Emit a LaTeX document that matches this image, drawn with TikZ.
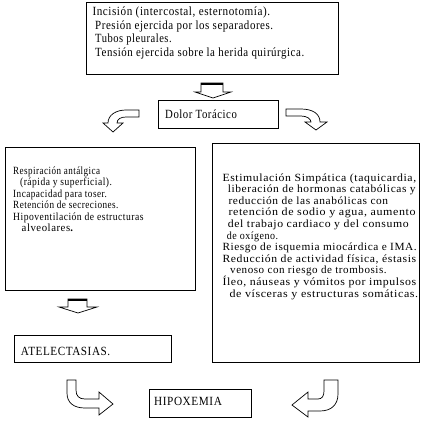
\documentclass[tikz,border=0pt]{standalone}
\usepackage{fontspec}
\usepackage{graphicx}
\setmainfont{Liberation Serif}[LetterSpace=5]
\newlength\fitw
\newcommand\fitto[2]{\settowidth\fitw{#2}\pgfmathsetmacro\fitsx{#1/\fitw}\scalebox{\fitsx}[1]{#2}}
\begin{document}
\begin{tikzpicture}[x=1pt,y=-1pt,
  box/.style={draw, line width=0.8pt, inner sep=0pt, anchor=north west},
  barrow/.style={draw, line width=0.7pt, fill=white, line join=miter},
  txt/.style={anchor=base west, inner sep=0pt},
  bigtxt/.style={txt, font=\fontsize{12.5}{13.5}\selectfont},
  smalltxt/.style={txt, font=\fontsize{11}{11.6}\selectfont}]
\useasboundingbox (0,0) rectangle (423,424);
\fill[white] (0,0) rectangle (423,424);
% boxes
\node[box, minimum width=252pt, minimum height=72pt] (topbox) at (86,2) {};
\node[box, minimum width=120pt, minimum height=28pt] (dolor) at (158,100) {};
\node[box, minimum width=190pt, minimum height=143pt] (leftbox) at (5,147) {};
\node[box, minimum width=207pt, minimum height=219pt] (rightbox) at (211.5,143) {};
\node[box, minimum width=157pt, minimum height=27pt] (atel) at (14,335) {};
\node[box, minimum width=102pt, minimum height=28pt] (hipox) at (149,389) {};
% top text
\node[bigtxt] (top1) at (92.3,15.5) {\fitto{177.7}{Incisión (intercostal, esternotomía).}};
\node[bigtxt] (top2) at (95,29) {\fitto{178}{Presión ejercida por los separadores.}};
\node[bigtxt] (top3) at (95,42.5) {\fitto{76.5}{Tubos pleurales.}};
\node[bigtxt] (top4) at (95,56) {\fitto{209}{Tensión ejercida sobre la herida quirúrgica.}};
\node[bigtxt] (dolortxt) at (165,118) {\fitto{71.7}{Dolor Torácico}};
\node[bigtxt] (ateltxt) at (20.7,355) {\fitto{89.3}{ATELECTASIAS.}};
\node[bigtxt] (hipoxtxt) at (154,405) {\fitto{67.7}{HIPOXEMIA}};
% left text
\node[smalltxt] (l1) at (13,174) {\fitto{87}{Respiración antálgica}};
\node[smalltxt] (l2) at (20,185.5) {\fitto{91.7}{(rápida y superficial).}};
\node[smalltxt] (l3) at (13,197) {\fitto{93.7}{Incapacidad para toser.}};
\node[smalltxt] (l4) at (13,208.5) {\fitto{105.3}{Retención de secreciones.}};
\node[smalltxt] (l5) at (13,220) {\fitto{130.3}{Hipoventilación de estructuras}};
\node[smalltxt] (l6) at (21.5,231.5) {\fitto{51.8}{alveolares\textbf{.}}};
% right text
\node[smalltxt] (r1) at (222.3,181) {\fitto{193.7}{Estimulación Simpática (taquicardia,}};
\node[smalltxt] (r2) at (227.7,192.6) {\fitto{187.8}{liberación de hormonas catabólicas y}};
\node[smalltxt] (r3) at (228.3,204.2) {\fitto{159.7}{reducción de las anabólicas con}};
\node[smalltxt] (r4) at (228.3,215.8) {\fitto{187.2}{retención de sodio y agua, aumento}};
\node[smalltxt] (r5) at (227.7,227.4) {\fitto{180.8}{del trabajo cardiaco y del consumo}};
\node[smalltxt] (r6) at (226.7,239) {\fitto{51.3}{de oxígeno.}};
\node[smalltxt] (r7) at (222.3,250.6) {\fitto{194.2}{Riesgo de isquemia miocárdica e IMA.}};
\node[smalltxt] (r8) at (222.3,262.2) {\fitto{193.7}{Reducción de actividad física, éstasis}};
\node[smalltxt] (r9) at (230,273.8) {\fitto{156.5}{venoso con riesgo de trombosis.}};
\node[smalltxt] (r10) at (222.3,285.4) {\fitto{193.7}{Íleo, náuseas y vómitos por impulsos}};
\node[smalltxt] (r11) at (229.3,297) {\fitto{188.7}{de vísceras y estructuras somáticas.}};
% block arrows
\draw[barrow] (201,83) -- (201,92) -- (195,92) -- (213,98) -- (231,92) -- (223,92) -- (223,83) -- cycle;
\draw[line width=2pt] (201,83.5) -- (223,83.5);
\draw[barrow] (68,299) -- (68,307) -- (59,307) -- (78,313) -- (97,307) -- (87,307) -- (87,299) -- cycle;
\draw[line width=2pt] (68,299.5) -- (87,299.5);
\draw[barrow] (139,110) -- (126,110) .. controls (116,110) and (108,115) .. (108,123) -- (103,123) -- (113,132) -- (123,123) -- (117,123) .. controls (117,119) and (121,117) .. (126,117) -- (139,117) -- cycle;
\draw[barrow] (286,109) -- (301,109) .. controls (313,109) and (320,114) .. (320,122) -- (327,122) -- (316,130) -- (305,122) -- (311,122) .. controls (311,119) and (307,116) .. (301,116) -- (286,116) -- cycle;
\draw[barrow] (67,380) -- (67,393) .. controls (67,403) and (74,408) .. (85,408) -- (99,408) -- (99,415) -- (113,404) -- (99,392) -- (99,399) -- (85,399) .. controls (79,399) and (76,396) .. (76,390) -- (76,380) -- cycle;
\draw[barrow] (338,380) -- (338,394) .. controls (338,405) and (331,411) .. (320,411) -- (308,411) -- (308,417) -- (292,405) -- (308,392) -- (308,399) -- (318,399) .. controls (322,399) and (324,396) .. (324,391) -- (324,380) -- cycle;
\end{tikzpicture}
\end{document}
